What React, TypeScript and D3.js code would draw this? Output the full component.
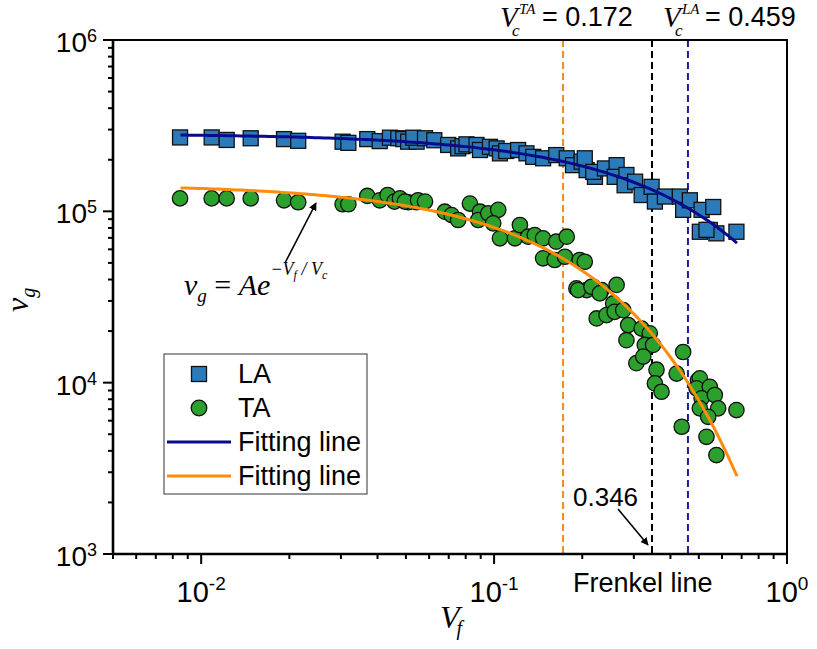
import React from "react";
import * as d3 from "d3";

// ---- data ----
const laX = [0.00847, 0.01086, 0.01222, 0.01476, 0.01918, 0.02144, 0.0304, 0.0318, 0.0369, 0.0407, 0.0441, 0.0471, 0.049, 0.0509, 0.0544, 0.053, 0.0581, 0.0625, 0.0697, 0.0754, 0.078, 0.0805, 0.0871, 0.0895, 0.0968, 0.102, 0.1047, 0.11, 0.1208, 0.129, 0.136, 0.147, 0.163, 0.177, 0.186, 0.199, 0.207, 0.221, 0.204, 0.218, 0.239, 0.262, 0.258, 0.283, 0.279, 0.303, 0.319, 0.345, 0.354, 0.383, 0.431, 0.442, 0.466, 0.511, 0.56, 0.504, 0.545, 0.574, 0.531, 0.672];
const laY = [2.70e5, 2.70e5, 2.61e5, 2.67e5, 2.64e5, 2.58e5, 2.55e5, 2.51e5, 2.64e5, 2.57e5, 2.69e5, 2.67e5, 2.64e5, 2.55e5, 2.55e5, 2.69e5, 2.67e5, 2.6e5, 2.44e5, 2.33e5, 2.4e5, 2.46e5, 2.44e5, 2.28e5, 2.38e5, 2.33e5, 2.18e5, 2.25e5, 2.28e5, 2.18e5, 2.08e5, 2.04e5, 2.13e5, 2.04e5, 1.86e5, 1.95e5, 1.74e5, 1.59e5, 2.04e5, 1.70e5, 1.78e5, 1.86e5, 1.59e5, 1.63e5, 1.42e5, 1.49e5, 1.245e5, 1.39e5, 1.14e5, 1.22e5, 1.22e5, 1.02e5, 1.16e5, 1.02e5, 1.06e5, 7.6e4, 7.78e4, 7.44e4, 7.8e4, 7.6e4];

const taX = [0.00847, 0.01086, 0.01222, 0.01476, 0.01918, 0.02144, 0.0304, 0.0318, 0.0369, 0.0407, 0.0433, 0.0457, 0.0477, 0.0509, 0.0544, 0.0496, 0.055, 0.0581, 0.0679, 0.0716, 0.0754, 0.0827, 0.0895, 0.0883, 0.0955, 0.1033, 0.0993, 0.1047, 0.1178, 0.1225, 0.1307, 0.1377, 0.147, 0.147, 0.161, 0.163, 0.177, 0.1745, 0.196, 0.204, 0.191, 0.207, 0.218, 0.233, 0.262, 0.255, 0.1936, 0.215, 0.2296, 0.224, 0.242, 0.258, 0.276, 0.287, 0.283, 0.319, 0.34, 0.327, 0.349, 0.306, 0.323, 0.3585, 0.354, 0.42, 0.442, 0.497, 0.517, 0.373, 0.504, 0.491, 0.545, 0.511, 0.567, 0.504, 0.582, 0.538, 0.672, 0.437, 0.531, 0.574];
const taY = [1.19e5, 1.19e5, 1.19e5, 1.19e5, 1.16e5, 1.13e5, 1.10e5, 1.10e5, 1.23e5, 1.16e5, 1.245e5, 1.14e5, 1.19e5, 1.13e5, 1.13e5, 1.14e5, 1.16e5, 1.14e5, 9.95e4, 9.51e4, 8.9e4, 1.11e5, 9.95e4, 8.9e4, 9.73e4, 1.02e5, 8.51e4, 6.96e4, 6.96e4, 8.32e4, 7.11e4, 7.27e4, 6.96e4, 5.32e4, 5.2e4, 6.65e4, 7.11e4, 5.43e4, 5.2e4, 5.08e4, 3.55e4, 3.47e4, 3.63e4, 3.47e4, 3.72e4, 2.9e4, 3.47e4, 3.63e4, 3.32e4, 2.37e4, 2.48e4, 2.59e4, 2.65e4, 2.17e4, 1.77e4, 2.07e4, 1.94e4, 1.66e4, 1.66e4, 1.30e4, 1.42e4, 1.19e4, 9.9e3, 1.13e4, 1.51e4, 1.035e4, 9.46e3, 8.85e3, 1.06e4, 9.27e3, 9.46e3, 8.1e3, 8.47e3, 7.08e3, 7.08e3, 6.32e3, 6.92e3, 5.53e3, 4.83e3, 3.78e3];

// fit parameters v_g = A exp(-Vf/Vc)
const fitLA = { A: 2.84e5, Vc: 0.459 };
const fitTA = { A: 1.44e5, Vc: 0.172 };
const fitRange = [0.0085, 0.675];

const vLines = [
  { v: 0.172, color: "#f08a24" },
  { v: 0.346, color: "#000000" },
  { v: 0.459, color: "#1a1aa0" },
];

const xMajor = [0.01, 0.1, 1];
const xMajorExp = ["-2", "-1", "0"];
const yMajor = [1e3, 1e4, 1e5, 1e6];
const yMajorExp = ["3", "4", "5", "6"];

const W = 817, H = 649;
const L = 113, R = 787, T = 40, B = 554;

const SQ_FILL = "#2b7bba";
const CI_FILL = "#2ca02c";
const LA_LINE = "#0a0a8c";
const TA_LINE = "#ff8c0a";

export default function App() {
  const x = d3.scaleLog().domain([0.005, 1]).range([L, R]);
  const y = d3.scaleLog().domain([1e3, 1e6]).range([B, T]);

  const xt = x.ticks();
  const yt = y.ticks();
  const isMajor = (v: number) => Math.abs(Math.log10(v) - Math.round(Math.log10(v))) < 1e-6;

  const fitPts = (p: { A: number; Vc: number }) => {
    const n = 120;
    const l0 = Math.log10(fitRange[0]), l1 = Math.log10(fitRange[1]);
    const pts: [number, number][] = [];
    for (let i = 0; i <= n; i++) {
      const v = Math.pow(10, l0 + (l1 - l0) * (i / n));
      pts.push([v, p.A * Math.exp(-v / p.Vc)]);
    }
    return pts;
  };
  const line = d3.line<[number, number]>().x((d) => x(d[0])).y((d) => y(d[1]));

  const sans = "'Liberation Sans', Arial, sans-serif";
  const serif = "'Liberation Serif', 'Times New Roman', serif";
  const sq = 15;
  const cr = 7.7;

  return (
    <svg width={W} height={H} style={{ position: "absolute", left: 0, top: 0, background: "#fff" }}>
      <defs>
        <marker id="ah" viewBox="0 0 10 10" refX="9" refY="5" markerWidth="8" markerHeight="8" orient="auto-start-reverse" markerUnits="userSpaceOnUse">
          <path d="M0,0 L10,5 L0,10 z" fill="#000" />
        </marker>
      </defs>
      <rect x={0} y={0} width={W} height={H} fill="#fff" />

      {vLines.map((d, i) => (
        <line key={i} x1={x(d.v)} x2={x(d.v)} y1={T} y2={B} stroke={d.color} strokeWidth={2} strokeDasharray="7,4" />
      ))}

      {laX.map((v, i) => (
        <rect key={"la" + i} x={x(v) - sq / 2} y={y(laY[i]) - sq / 2} width={sq} height={sq} fill={SQ_FILL} stroke="#111" strokeWidth={1.3} />
      ))}
      {taX.map((v, i) => (
        <circle key={"ta" + i} cx={x(v)} cy={y(taY[i])} r={cr} fill={CI_FILL} stroke="#111" strokeWidth={1.3} />
      ))}

      <path d={line(fitPts(fitLA)) || ""} fill="none" stroke={LA_LINE} strokeWidth={3} />
      <path d={line(fitPts(fitTA)) || ""} fill="none" stroke={TA_LINE} strokeWidth={3} />

      {/* frame */}
      <rect x={L} y={T} width={R - L} height={B - T} fill="none" stroke="#000" strokeWidth={2} />
      <line x1={L} x2={L} y1={T} y2={B + 1} stroke="#000" strokeWidth={2.6} />
      <line x1={L - 1} x2={R + 1} y1={B} y2={B} stroke="#000" strokeWidth={2.6} />

      {xt.map((v, i) => (
        <line key={"xt" + i} x1={x(v)} x2={x(v)} y1={B} y2={B + (isMajor(v) ? 10 : 5)} stroke="#000" strokeWidth={2} />
      ))}
      {yt.map((v, i) => (
        <line key={"yt" + i} x1={L} x2={L - (isMajor(v) ? 10 : 5)} y1={y(v)} y2={y(v)} stroke="#000" strokeWidth={2} />
      ))}

      {xMajor.map((v, i) => (
        <text key={"xl" + i} x={x(v)} y={B + 48} textAnchor="middle" fontFamily={sans} fontSize={29} fill="#000">
          10<tspan dy={-12} fontSize={19}>{xMajorExp[i]}</tspan>
        </text>
      ))}
      {yMajor.map((v, i) => (
        <text key={"yl" + i} x={97} y={y(v) + 12} textAnchor="end" fontFamily={sans} fontSize={28} fill="#000">
          10<tspan dy={-10} fontSize={18}>{yMajorExp[i]}</tspan>
        </text>
      ))}

      {/* axis titles */}
      <text x={440} y={628} fontFamily={serif} fontStyle="italic" fontSize={32} fill="#000">
        V<tspan dx={-3} dy={7} fontSize={20}>f</tspan>
      </text>
      <text transform="translate(28,312) rotate(-90)" fontFamily={serif} fontStyle="italic" fontSize={32} fill="#000">
        v<tspan dy={7} fontSize={20}>g</tspan>
      </text>

      {/* Vc labels */}
      <text x={500} y={27} fontFamily={serif} fontStyle="italic" fontSize={29}>V</text>
      <text x={519} y={14} fontFamily={serif} fontStyle="italic" fontSize={15}>TA</text>
      <text x={512} y={36} fontFamily={serif} fontStyle="italic" fontSize={17}>c</text>
      <text x={542} y={26} fontFamily={sans} fontSize={27}>= 0.172</text>

      <text x={663} y={27} fontFamily={serif} fontStyle="italic" fontSize={29}>V</text>
      <text x={682} y={14} fontFamily={serif} fontStyle="italic" fontSize={15}>LA</text>
      <text x={675} y={36} fontFamily={serif} fontStyle="italic" fontSize={17}>c</text>
      <text x={705} y={26} fontFamily={sans} fontSize={27}>= 0.459</text>

      {/* Frenkel annotation */}
      <text x={573} y={506} fontFamily={sans} fontSize={26}>0.346</text>
      <line x1={618} y1={509} x2={648} y2={545} stroke="#000" strokeWidth={1.6} markerEnd="url(#ah)" />
      <text x={573} y={592} fontFamily={sans} fontSize={27}>Frenkel line</text>

      {/* equation */}
      <text x={184} y={295} fontFamily={serif} fontStyle="italic" fontSize={30} fill="#000">
        v<tspan dy={7} fontSize={19}>g</tspan>
        <tspan dy={-7} fontStyle="normal"> = </tspan>
        <tspan>Ae</tspan>
        <tspan dy={-20} fontSize={18}>−V</tspan>
        <tspan dy={4} fontSize={12}>f</tspan>
        <tspan dy={-4} fontSize={18}> / V</tspan>
        <tspan dy={4} fontSize={12}>c</tspan>
      </text>
      <line x1={285} y1={263} x2={316} y2={203} stroke="#000" strokeWidth={1.6} markerEnd="url(#ah)" />

      {/* legend */}
      <rect x={164} y={354} width={203} height={140} fill="#fff" stroke="#333" strokeWidth={1} />
      <rect x={199 - 7.5} y={374 - 7.5} width={15} height={15} fill={SQ_FILL} stroke="#111" strokeWidth={1.3} />
      <circle cx={199} cy={408} r={7.8} fill={CI_FILL} stroke="#111" strokeWidth={1.3} />
      <line x1={167} x2={231} y1={442} y2={442} stroke={LA_LINE} strokeWidth={3} />
      <line x1={167} x2={231} y1={476} y2={476} stroke={TA_LINE} strokeWidth={3} />
      <text x={238} y={383} fontFamily={sans} fontSize={27}>LA</text>
      <text x={238} y={417} fontFamily={sans} fontSize={27}>TA</text>
      <text x={238} y={451} fontFamily={sans} fontSize={27}>Fitting line</text>
      <text x={238} y={485} fontFamily={sans} fontSize={27}>Fitting line</text>
    </svg>
  );
}
